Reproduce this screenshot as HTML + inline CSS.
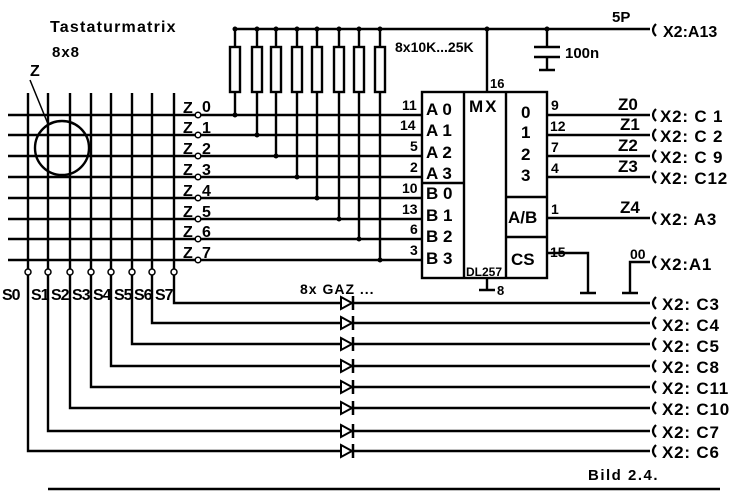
<!DOCTYPE html>
<html><head><meta charset="utf-8"><style>
html,body{margin:0;padding:0;background:#fff;}
svg{display:block;}
text{font-family:"Liberation Sans",sans-serif;font-weight:bold;fill:#000;}
</style></head><body>
<svg width="734" height="491" viewBox="0 0 734 491" xmlns="http://www.w3.org/2000/svg">
<g stroke="#000" stroke-width="2.4" fill="none">
<path d="M8 115H422M8 135H422M8 156H422M8 177H422M8 198H422M8 219H422M8 239H422M8 260H422"/>
<path d="M28 93V269M48 93V269M70 93V269M91 93V269M111 93V269M132 93V269M152 93V269M174 93V269"/>
<circle cx="62" cy="148" r="27"/>
<path d="M30 80L48 124" stroke-width="1.5"/>
<path d="M174 275V303H650M152 275V323H650M132 275V344H650M111 275V366H650M91 275V387H650M70 275V408H650M48 275V431H650M28 275V451H650"/>
<path d="M235 29H650"/>
<path d="M235 29V47M257 29V47M276 29V47M297 29V47M317 29V47M339 29V47M359 29V47M380 29V47"/>
<rect x="230" y="47" width="10" height="45"/><rect x="252" y="47" width="10" height="45"/>
<rect x="271" y="47" width="10" height="45"/><rect x="292" y="47" width="10" height="45"/>
<rect x="312" y="47" width="10" height="45"/><rect x="334" y="47" width="10" height="45"/>
<rect x="354" y="47" width="10" height="45"/><rect x="375" y="47" width="10" height="45"/>
<path d="M235 92V115M257 92V135M276 92V156M297 92V177M317 92V198M339 92V219M359 92V239M380 92V260"/>
<rect x="422" y="92" width="125" height="186"/>
<path d="M464 92V278M506 92V278M422 183H464M506 197H547M506 237H547"/>
<path d="M487 29V92"/>
<path d="M487 278V290M479 290H495" />
<path d="M547 29V47M534 47H560M534 57H560M547 57V70M539 70H555"/>
<path d="M547 115H650M547 135H650M547 156H650M547 177H650M547 218H650"/>
<path d="M547 253H588V293M580 293H596"/>
<path d="M650 262H630V293M622 293H638"/>
<path d="M48 489H720"/>
</g>
<g fill="#000">
<circle cx="235" cy="29" r="2.5"/><circle cx="257" cy="29" r="2.5"/><circle cx="276" cy="29" r="2.5"/><circle cx="297" cy="29" r="2.5"/><circle cx="317" cy="29" r="2.5"/><circle cx="339" cy="29" r="2.5"/><circle cx="359" cy="29" r="2.5"/><circle cx="380" cy="29" r="2.5"/><circle cx="487" cy="29" r="2.5"/><circle cx="547" cy="29" r="2.5"/>
<circle cx="235" cy="115" r="2.5"/><circle cx="257" cy="135" r="2.5"/><circle cx="276" cy="156" r="2.5"/><circle cx="297" cy="177" r="2.5"/><circle cx="317" cy="198" r="2.5"/><circle cx="339" cy="219" r="2.5"/><circle cx="359" cy="239" r="2.5"/><circle cx="380" cy="260" r="2.5"/>
</g>
<g fill="#fff" stroke="#000" stroke-width="1.5">
<circle cx="198" cy="115" r="2.8"/><circle cx="198" cy="135" r="2.8"/><circle cx="198" cy="156" r="2.8"/><circle cx="198" cy="177" r="2.8"/><circle cx="198" cy="198" r="2.8"/><circle cx="198" cy="219" r="2.8"/><circle cx="198" cy="239" r="2.8"/><circle cx="198" cy="260" r="2.8"/>
<circle cx="28" cy="272" r="3"/><circle cx="48" cy="272" r="3"/><circle cx="70" cy="272" r="3"/><circle cx="91" cy="272" r="3"/><circle cx="111" cy="272" r="3"/><circle cx="132" cy="272" r="3"/><circle cx="152" cy="272" r="3"/><circle cx="174" cy="272" r="3"/>
</g>
<g fill="#fff" stroke="#000" stroke-width="2">
<path d="M341 297L352 303L341 309Z"/><path d="M341 317L352 323L341 329Z"/><path d="M341 338L352 344L341 350Z"/><path d="M341 360L352 366L341 372Z"/><path d="M341 381L352 387L341 393Z"/><path d="M341 402L352 408L341 414Z"/><path d="M341 425L352 431L341 437Z"/><path d="M341 445L352 451L341 457Z"/>
</g>
<g stroke="#000" stroke-width="2.5">
<path d="M353 296V310M353 316V330M353 337V351M353 359V373M353 380V394M353 401V415M353 424V438M353 444V458"/>
</g>
<g fill="none" stroke="#000" stroke-width="2.2">
<path d="M656 24Q650 30 656 36M656 109Q650 115 656 121M656 129Q650 135 656 141M656 150Q650 156 656 162M656 171Q650 177 656 183M656 212Q650 218 656 224M656 256Q650 262 656 268M656 297Q650 303 656 309M656 317Q650 323 656 329M656 338Q650 344 656 350M656 360Q650 366 656 372M656 381Q650 387 656 393M656 402Q650 408 656 414M656 425Q650 431 656 437M656 445Q650 451 656 457"/>
</g>
<g font-size="15">
<text x="50" y="32" font-size="16" letter-spacing="1.2">Tastaturmatrix</text>
<text x="52" y="57" font-size="15" letter-spacing="1">8x8</text>
<text x="30" y="76" font-size="16">Z</text>
<g font-size="16">
<text x="183" y="113">Z</text><text x="202" y="112">0</text>
<text x="183" y="133">Z</text><text x="202" y="133">1</text>
<text x="183" y="154">Z</text><text x="202" y="154">2</text>
<text x="183" y="175">Z</text><text x="202" y="175">3</text>
<text x="183" y="196">Z</text><text x="202" y="196">4</text>
<text x="183" y="217">Z</text><text x="202" y="217">5</text>
<text x="183" y="237">Z</text><text x="202" y="237">6</text>
<text x="183" y="258">Z</text><text x="202" y="258">7</text>
</g>
<g font-size="16" letter-spacing="-1">
<text x="2" y="300">S0</text><text x="31" y="300">S1</text><text x="51" y="300">S2</text><text x="72" y="300">S3</text><text x="93" y="300">S4</text><text x="114" y="300">S5</text><text x="134" y="300">S6</text><text x="155" y="300">S7</text>
</g>
<text x="300" y="294" font-size="14" letter-spacing="1">8x GAZ ...</text>
<text x="395" y="52" font-size="14">8x10K...25K</text>
<text x="490" y="88" font-size="13">16</text>
<text x="565" y="58" font-size="15">100n</text>
<text x="612" y="22" font-size="15">5P</text>
<text x="663" y="37" font-size="16">X2:A13</text>
<g font-size="14">
<text x="402" y="110">11</text><text x="400" y="130">14</text><text x="410" y="151">5</text><text x="410" y="172">2</text><text x="402" y="193">10</text><text x="402" y="214">13</text><text x="410" y="234">6</text><text x="410" y="255">3</text>
<text x="551" y="110">9</text><text x="550" y="131">12</text><text x="551" y="152">7</text><text x="551" y="173">4</text><text x="551" y="214">1</text><text x="550" y="257">15</text>
</g>
<g font-size="17">
<text x="426" y="115">A 0</text><text x="426" y="136">A 1</text><text x="426" y="158">A 2</text><text x="426" y="179">A 3</text>
<text x="426" y="199">B 0</text><text x="426" y="221">B 1</text><text x="426" y="242">B 2</text><text x="426" y="264">B 3</text>
<text x="469" y="112" letter-spacing="2">MX</text>
<text x="521" y="118">0</text><text x="521" y="138">1</text><text x="521" y="160">2</text><text x="521" y="181">3</text>
<text x="508" y="223">A/B</text><text x="511" y="265">CS</text>
</g>
<text x="466" y="276" font-size="12">DL257</text>
<text x="497" y="295" font-size="13">8</text>
<g font-size="17">
<text x="618" y="110">Z0</text><text x="620" y="130">Z1</text><text x="618" y="151">Z2</text><text x="618" y="172">Z3</text><text x="620" y="213">Z4</text><text x="630" y="259" font-size="14">00</text>
</g>
<g font-size="17" letter-spacing="0.8">
<text x="660" y="122">X2: C 1</text><text x="660" y="142">X2: C 2</text><text x="660" y="163">X2: C 9</text><text x="660" y="184">X2: C12</text>
<text x="660" y="225">X2: A3</text><text x="660" y="270">X2:A1</text>
<text x="662" y="310">X2: C3</text><text x="662" y="331">X2: C4</text><text x="662" y="352">X2: C5</text><text x="662" y="373">X2: C8</text><text x="662" y="394">X2: C11</text><text x="662" y="415">X2: C10</text><text x="662" y="438">X2: C7</text><text x="662" y="458">X2: C6</text>
</g>
<text x="588" y="480" font-size="15" letter-spacing="1.5">Bild 2.4.</text>
</g>
</svg>
</body></html>
